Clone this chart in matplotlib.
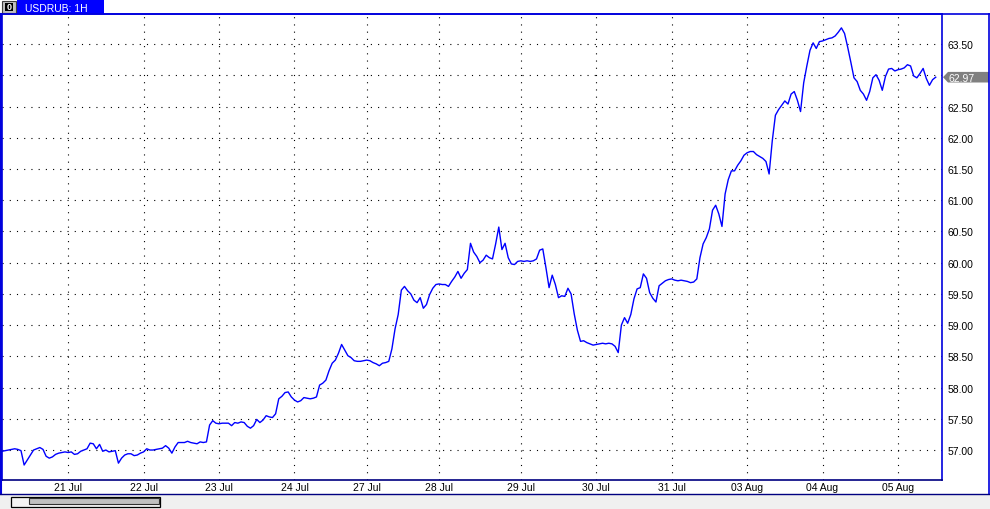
import matplotlib as mpl
import matplotlib.pyplot as plt
import matplotlib.transforms as mtransforms
from matplotlib.patches import Rectangle, Polygon
from matplotlib.lines import Line2D
import numpy as np

# hourly USDRUB closes, bar 0 = 20 Jul 03:00
prices = [
    # 20 Jul
    56.98, 56.99, 57.00, 57.01, 57.02, 57.01, 56.99, 56.76, 56.84, 56.92, 57.00,
    57.02, 57.04, 57.01, 56.90, 56.87, 56.89, 56.93, 56.95, 56.96, 56.97,
    # 21 Jul
    56.96, 56.97, 56.93, 56.94, 56.98, 57.00, 57.02, 57.11, 57.10, 57.02, 57.09, 56.98,
    57.00, 56.97, 56.98, 56.99, 56.79, 56.87, 56.92, 56.94, 56.94, 56.91, 56.92, 56.95,
    # 22 Jul
    56.97, 57.02, 57.00, 57.00, 57.01, 57.02, 57.03, 57.07, 57.03, 56.95, 57.05, 57.12,
    57.12, 57.12, 57.14, 57.12, 57.11, 57.10, 57.13, 57.12, 57.13, 57.40, 57.47, 57.43,
    # 23 Jul
    57.42, 57.43, 57.43, 57.43, 57.39, 57.44, 57.43, 57.45, 57.44, 57.38, 57.35, 57.39,
    57.49, 57.44, 57.48, 57.55, 57.53, 57.52, 57.58, 57.82, 57.86, 57.92, 57.93, 57.85,
    # 24 Jul
    57.80, 57.77, 57.79, 57.84, 57.83, 57.82, 57.83, 57.85, 58.04, 58.07, 58.12, 58.27,
    58.39, 58.44, 58.55, 58.69, 58.60, 58.51, 58.48, 58.43, 58.42, 58.42, 58.43,
    # 27 Jul
    58.44, 58.43, 58.40, 58.38, 58.35, 58.39, 58.40, 58.42, 58.62, 58.94, 59.17, 59.56,
    59.62, 59.55, 59.50, 59.40, 59.36, 59.44, 59.27, 59.33, 59.49, 59.59, 59.65,
    # 28 Jul
    59.66, 59.65, 59.65, 59.62, 59.70, 59.77, 59.86, 59.75, 59.83, 59.89, 60.31, 60.17,
    60.10, 60.00, 60.04, 60.12, 60.08, 60.06, 60.30, 60.57, 60.21, 60.31, 60.08, 59.98,
    59.97, 60.02,
    # 29 Jul
    60.03, 60.02, 60.03, 60.02, 60.03, 60.06, 60.20, 60.22, 59.92, 59.60, 59.80, 59.65,
    59.44, 59.47, 59.46, 59.59, 59.50, 59.18, 58.92, 58.74, 58.75, 58.72, 58.70, 58.68,
    # 30 Jul
    58.69, 58.70, 58.71, 58.70, 58.71, 58.70, 58.66, 58.56, 59.00, 59.12, 59.03, 59.17,
    59.42, 59.58, 59.60, 59.82, 59.75, 59.52, 59.43, 59.37, 59.63, 59.67, 59.71, 59.73,
    # 31 Jul
    59.74, 59.72, 59.71, 59.72, 59.71, 59.70, 59.68, 59.69, 59.74, 60.08, 60.30, 60.40,
    60.54, 60.84, 60.92, 60.78, 60.58, 61.10, 61.33, 61.47, 61.47, 61.56, 61.63, 61.72,
    # 03 Aug
    61.76, 61.78, 61.78, 61.73, 61.70, 61.67, 61.62, 61.42, 61.95, 62.36, 62.45, 62.52,
    62.59, 62.54, 62.70, 62.74, 62.60, 62.42, 62.88, 63.15, 63.40, 63.52, 63.43, 63.54,
    # 04 Aug
    63.55, 63.57, 63.59, 63.60, 63.63, 63.69, 63.76, 63.67, 63.45, 63.21, 62.96, 62.90,
    62.76, 62.70, 62.60, 62.74, 62.96, 63.01, 62.92, 62.76, 62.98, 63.10, 63.11, 63.07,
    # 05 Aug
    63.09, 63.10, 63.12, 63.17, 63.15, 62.99, 62.96, 63.03, 63.11, 62.95, 62.84, 62.93,
    62.97,
]

# first bar of each trading day
day_bars = [21, 45, 69, 93, 116, 139, 165, 189, 213, 237, 261, 285]
day_labels = ["21 Jul", "22 Jul", "23 Jul", "24 Jul", "27 Jul", "28 Jul",
              "29 Jul", "30 Jul", "31 Jul", "03 Aug", "04 Aug", "05 Aug"]
price_ticks = np.arange(57.0, 63.51, 0.5)
symbol = "USDRUB: 1H"

W, H = 990, 510
mpl.rcParams['font.family'] = ['Liberation Sans', 'DejaVu Sans']
fs = 7.5


def fx(px):
    return px / W


def fy(py):
    return 1 - py / H


fig = plt.figure(figsize=(W / 100, H / 100), dpi=100)
fig.patch.set_facecolor("white")

# main price panel
ax = fig.add_axes([fx(1.5), fy(481), fx(942) - fx(1.5), fy(14.5) - fy(481)])
bars = np.arange(len(prices))
ax.plot(bars, prices, color="#0000ff", lw=1.0)

ax.set_xlim(-0.2, 299)
ax.set_ylim(56.52, 63.99)

ax.set_xticks(day_bars)
ax.set_xticklabels(day_labels)
ax.set_yticks(price_ticks)
ax.set_yticklabels(["{:.2f}".format(v) for v in price_ticks])
ax.yaxis.tick_right()
ax.tick_params(axis="both", length=0, labelsize=fs, colors="black")
ax.tick_params(axis="y", pad=4.1)
ax.tick_params(axis="x", pad=1.5)

ax.grid(True, color="black", linestyle=(0, (1, 5.5)), linewidth=0.8)

for s in ["left", "top", "right"]:
    ax.spines[s].set_color("#0000dd")
    ax.spines[s].set_linewidth(1.2)
ax.spines["bottom"].set_color("#000080")
ax.spines["bottom"].set_linewidth(1.2)

# last price marker
last = prices[-1]
bt = mtransforms.blended_transform_factory(fig.transFigure, ax.transData)
hh = 5.3 / 62.46
marker = Polygon([[fx(943), last], [fx(948), last + hh], [fx(989), last + hh],
                  [fx(989), last - hh], [fx(948), last - hh]],
                 closed=True, transform=bt, facecolor="#808080", edgecolor="none",
                 clip_on=False)
fig.add_artist(marker)
fig.text(fx(948.5), 0, "{:.2f}".format(last), transform=bt, color="white",
         fontsize=fs, va="center_baseline", ha="left")
fig.texts[-1].set_y(last)

# frame lines outside the panel
fig.add_artist(Line2D([0, 1], [fy(14.5), fy(14.5)], color="#0000dd", lw=1.2))
fig.add_artist(Line2D([fx(989.3), fx(989.3)], [fy(14.5), fy(495)], color="#0000dd", lw=1.2))
fig.add_artist(Line2D([fx(0.5), fx(0.5)], [fy(14.5), fy(495)], color="#0000dd", lw=1.5))

# scrollbar strip
fig.add_artist(Rectangle((0, 0), 1, fy(495), transform=fig.transFigure,
                         facecolor="#f0f0f0", edgecolor="none"))
fig.add_artist(Line2D([0, 1], [fy(495), fy(495)], color="#000080", lw=1.0))
fig.add_artist(Rectangle((fx(10.5), fy(507.5)), fx(160.5) - fx(10.5), fy(497.5) - fy(507.5),
                         transform=fig.transFigure, facecolor="#f4f4f4",
                         edgecolor="black", lw=0.9))
fig.add_artist(Rectangle((fx(28.5), fy(505.3)), fx(158.5) - fx(28.5), fy(499.2) - fy(505.3),
                         transform=fig.transFigure, facecolor="#c0c0c0",
                         edgecolor="#303030", lw=0.8))

# title tab
fig.add_artist(Rectangle((fx(1.5), fy(13.5)), fx(16) - fx(1.5), fy(1.5) - fy(13.5),
                         transform=fig.transFigure, facecolor="#c0c0c0",
                         edgecolor="#404040", lw=0.8))
fig.add_artist(Rectangle((fx(5), fy(11.5)), fx(13) - fx(5), fy(3.5) - fy(11.5),
                         transform=fig.transFigure, facecolor="black", edgecolor="none"))
fig.text(fx(9), fy(7.5), "0", color="white", fontsize=6.5, ha="center", va="center",
         fontweight="bold")
fig.add_artist(Rectangle((fx(17), fy(14.5)), fx(103.5) - fx(17), fy(0) - fy(14.5),
                         transform=fig.transFigure, facecolor="#0000ff", edgecolor="none"))
fig.text(fx(25), fy(7.5), symbol, color="white", fontsize=fs, ha="left",
         va="center_baseline")

fig.savefig("out.png", dpi=100)
